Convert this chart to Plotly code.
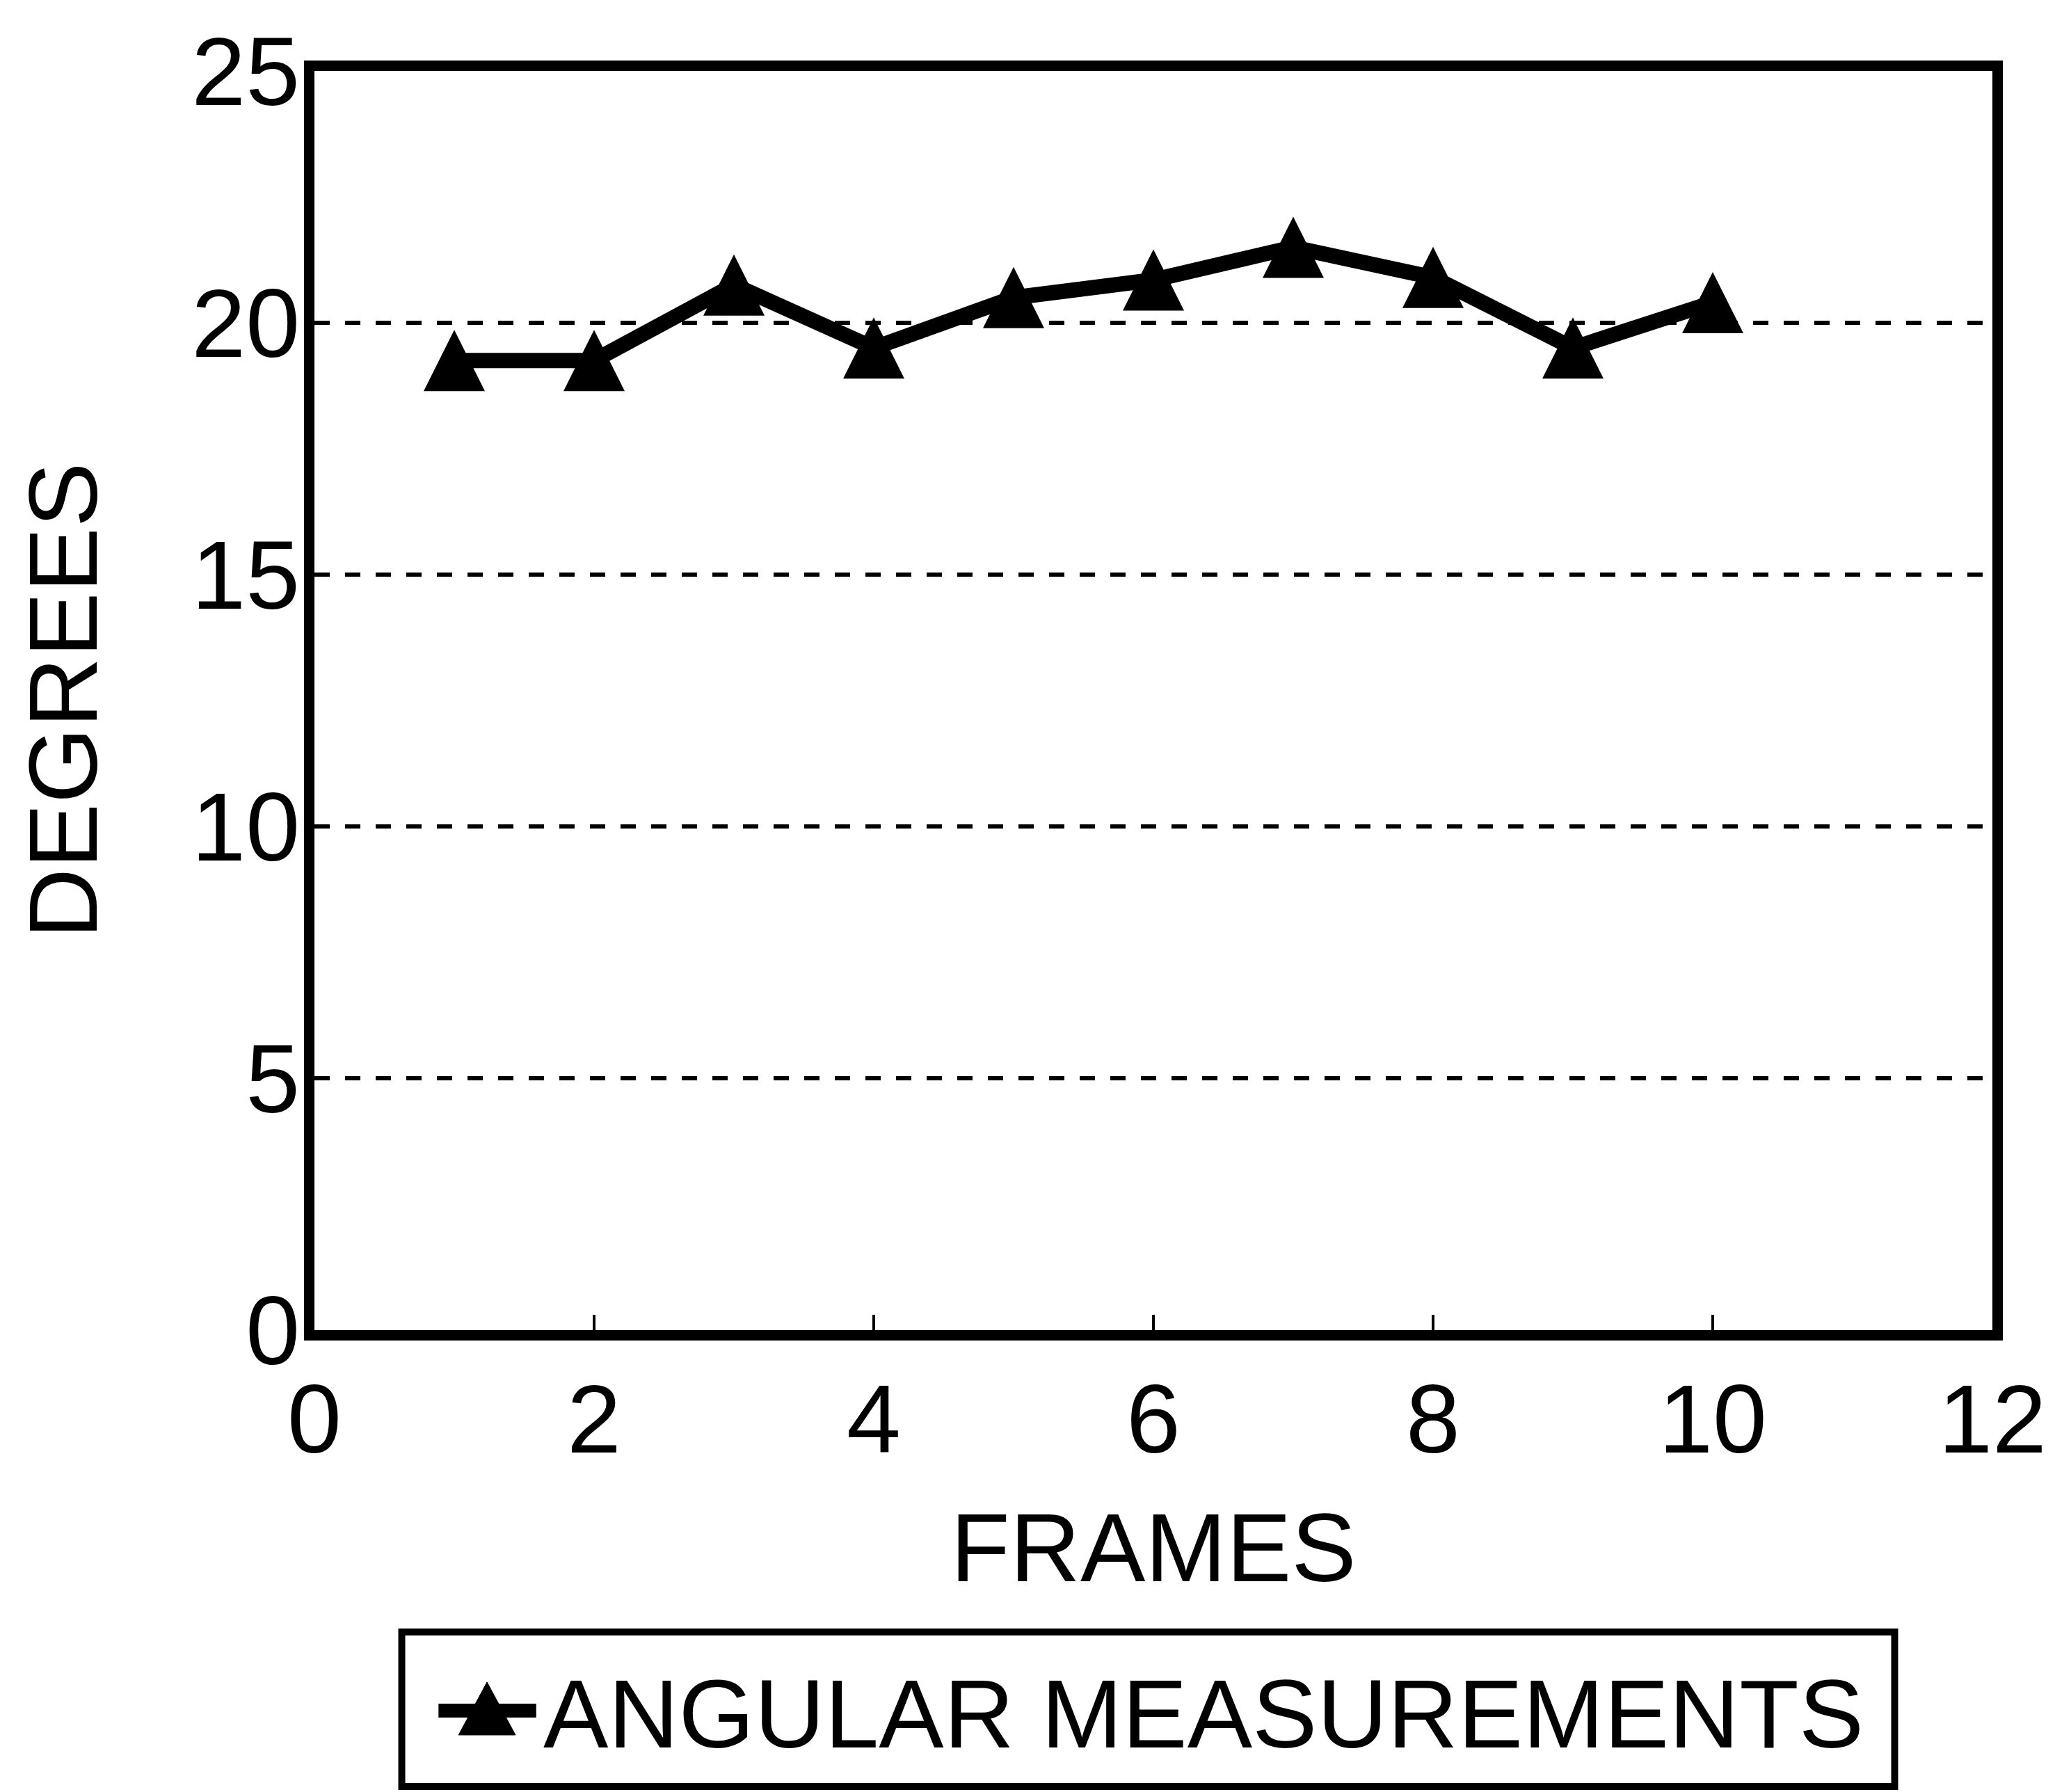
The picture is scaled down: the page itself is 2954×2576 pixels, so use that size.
import plotly.graph_objects as go

# Angle measured in each frame
frames = [1, 2, 3, 4, 5, 6, 7, 8, 9, 10]
degrees = [19.25, 19.25, 20.75, 19.5, 20.5, 20.85, 21.5, 20.9, 19.5, 20.4]

x_ticks = [0, 2, 4, 6, 8, 10, 12]
y_ticks = [0, 5, 10, 15, 20, 25]
series_name = "ANGULAR MEASUREMENTS"
x_title = "FRAMES"
y_title = "DEGREES"

FONT = "Liberation Sans, Arial, Helvetica, sans-serif"
INK = "black"

W, H = 2954, 2576
M_L, M_R, M_T, M_B = 452, 81, 102, 664
PW = W - M_L - M_R
PH = H - M_T - M_B

MARKER_SIZE = 88


def px_x(px):
    """Convert a horizontal pixel position to paper units."""
    return (px - M_L) / PW


def px_y(py):
    """Convert a vertical pixel position (from top) to paper units."""
    return (H - M_B - py) / PH


fig = go.Figure()
# Tall solid triangles centred on each point: an arrow-down glyph pushed
# half its height off the point and turned upside down.
fig.add_trace(
    go.Scatter(
        x=frames,
        y=degrees,
        mode="lines+markers",
        name=series_name,
        line=dict(color=INK, width=22),
        marker=dict(symbol="arrow-down", size=MARKER_SIZE, angle=180,
                    standoff=MARKER_SIZE / 2, color=INK, line=dict(width=0)),
        showlegend=False,
        cliponaxis=False,
    )
)

# Boxed key below the plot
key_shapes = [
    dict(type="rect", xref="paper", yref="paper",
         x0=px_x(578), x1=px_x(2732), y0=px_y(2346), y1=px_y(2568),
         line=dict(color=INK, width=10), fillcolor="white"),
    dict(type="line", xref="paper", yref="paper",
         x0=px_x(631), x1=px_x(772), y0=px_y(2459), y1=px_y(2459),
         line=dict(color=INK, width=20)),
    dict(type="path", xref="paper", yref="paper",
         path=(f"M {px_x(660)},{px_y(2494)} L {px_x(742)},{px_y(2494)} "
               f"L {px_x(701)},{px_y(2418)} Z"),
         line=dict(color=INK, width=1), fillcolor=INK),
]

fig.update_layout(
    width=W,
    height=H,
    autosize=False,
    margin=dict(l=M_L, r=M_R, t=M_T, b=M_B, pad=0),
    paper_bgcolor="white",
    plot_bgcolor="white",
    font=dict(family=FONT, color=INK, size=140),
    showlegend=False,
    shapes=key_shapes,
    annotations=[
        dict(text=series_name, xref="paper", yref="paper",
             x=px_x(1735), y=px_y(2463), xanchor="center", yanchor="middle",
             showarrow=False, font=dict(family=FONT, size=140, color=INK)),
    ],
    xaxis=dict(
        range=[0, 12],
        tickvals=x_ticks,
        ticktext=[str(v) for v in x_ticks],
        showline=True, linewidth=15, linecolor=INK, mirror=True,
        ticks="inside", ticklen=22, tickwidth=4, tickcolor=INK,
        ticklabelstandoff=-7,
        showgrid=False, zeroline=False,
        tickfont=dict(family=FONT, size=140, color=INK),
        title=dict(text=x_title, font=dict(family=FONT, size=140, color=INK), standoff=64),
    ),
    yaxis=dict(
        range=[0, 25],
        tickvals=y_ticks,
        ticktext=[str(v) for v in y_ticks],
        showline=True, linewidth=15, linecolor=INK, mirror=True,
        ticks="",
        ticklabelstandoff=-22,
        showgrid=True, gridcolor=INK, gridwidth=6, griddash="22px,22px",
        zeroline=False,
        tickfont=dict(family=FONT, size=140, color=INK),
        title=dict(text=y_title, font=dict(family=FONT, size=140, color=INK), standoff=95),
    ),
)

fig.write_html("out.html")
